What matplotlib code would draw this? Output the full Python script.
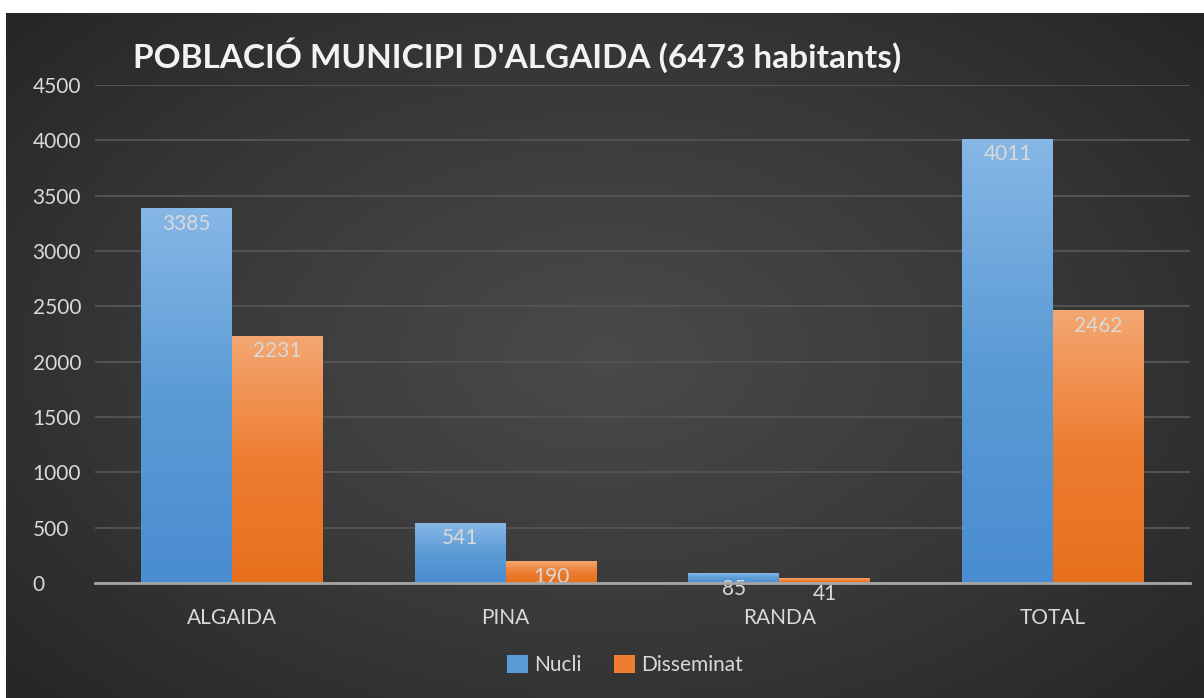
import numpy as np
import matplotlib
matplotlib.use('Agg')
import matplotlib.pyplot as plt
from matplotlib.colors import LinearSegmentedColormap

# ── dades ──────────────────────────────────────────────
categories = ['ALGAIDA', 'PINA', 'RANDA', 'TOTAL']
nucli = [3385, 541, 85, 4011]
disseminat = [2231, 190, 41, 2462]
yticks = [0, 500, 1000, 1500, 2000, 2500, 3000, 3500, 4000, 4500]
title = "POBLACIÓ MUNICIPI D'ALGAIDA (6473 habitants)"

plt.rcParams['font.family'] = ['Lato', 'DejaVu Sans']
TXT = '#d9d9d9'
FS = 15

fig = plt.figure(figsize=(12.04, 6.98), dpi=100)
fig.patch.set_facecolor('white')

# fons fosc amb degradat radial
bg = fig.add_axes([6 / 1204, 0, 1 - 6 / 1204, 1 - 13 / 698])
bg.axis('off')
yy, xx = np.mgrid[-1:1:300j, -1:1:500j]
r = np.sqrt(xx ** 2 + (yy * 0.9) ** 2) / np.sqrt(1 + 0.81)
bg_cmap = LinearSegmentedColormap.from_list('bg', ['#4a4a4a', '#3a3a3a', '#262626'])
bg.imshow(r, cmap=bg_cmap, aspect='auto', extent=[0, 1, 0, 1], vmin=0, vmax=1)
bg.set_xlim(0, 1); bg.set_ylim(0, 1)

ax = fig.add_axes([95 / 1204, 1 - 583 / 698, (1190 - 95) / 1204, (583 - 85) / 698])
ax.patch.set_alpha(0)

blue_cmap = LinearSegmentedColormap.from_list('b', ['#4a8dd0', '#5b9bd5', '#86b7e6'])
orange_cmap = LinearSegmentedColormap.from_list('o', ['#e8701c', '#ed7d31', '#f4a772'])

x = np.arange(len(categories))
w = 0.332
grad = np.linspace(0, 1, 256).reshape(-1, 1)
for vals, off, cmap, base in [(nucli, -w / 2, blue_cmap, '#5b9bd5'),
                              (disseminat, w / 2, orange_cmap, '#ed7d31')]:
    bars = ax.bar(x + off, vals, width=w, color=base, zorder=2)
    for b, v in zip(bars, vals):
        x0 = b.get_x()
        ax.imshow(grad, cmap=cmap, origin='lower', aspect='auto',
                  extent=[x0, x0 + w, 0, v], zorder=3)
        ax.annotate(str(v), (x0 + w / 2, v), xytext=(0, -11), textcoords='offset points',
                    ha='center', va='center', color=TXT, fontsize=FS, zorder=4)
ax.set_xlim(-0.5, 3.5)
ax.set_ylim(0, 4500)

ax.set_yticks(yticks)
ax.set_xticks(x)
ax.set_xticklabels(categories)
ax.tick_params(axis='both', length=0, colors=TXT, labelsize=FS)
ax.tick_params(axis='x', pad=18)
ax.tick_params(axis='y', pad=45)
for lbl in ax.get_yticklabels():
    lbl.set_horizontalalignment('left')
ax.grid(axis='y', color='#525252', lw=1.5, zorder=0)
ax.set_axisbelow(True)
for s in ['top', 'right', 'left']:
    ax.spines[s].set_visible(False)
ax.spines['bottom'].set_color('#a6a6a6')
ax.spines['bottom'].set_linewidth(2)
ax.spines['bottom'].set_zorder(5)

fig.text(133 / 1204, 1 - 55 / 698, title, color='#f2f2f2', fontsize=24,
         fontweight='bold', va='center', ha='left')

leg = ax.legend([plt.Rectangle((0, 0), 1, 1, fc='#5b9bd5'), plt.Rectangle((0, 0), 1, 1, fc='#ed7d31')],
                ['Nucli', 'Disseminat'], loc='center', bbox_to_anchor=(625 / 1204, 1 - 665 / 698),
                bbox_transform=fig.transFigure, ncol=2, frameon=False, fontsize=FS,
                handlelength=1.0, handleheight=1.0, handletextpad=0.3, columnspacing=1.6,
                labelcolor=TXT)

fig.savefig('out.png', dpi=100)
